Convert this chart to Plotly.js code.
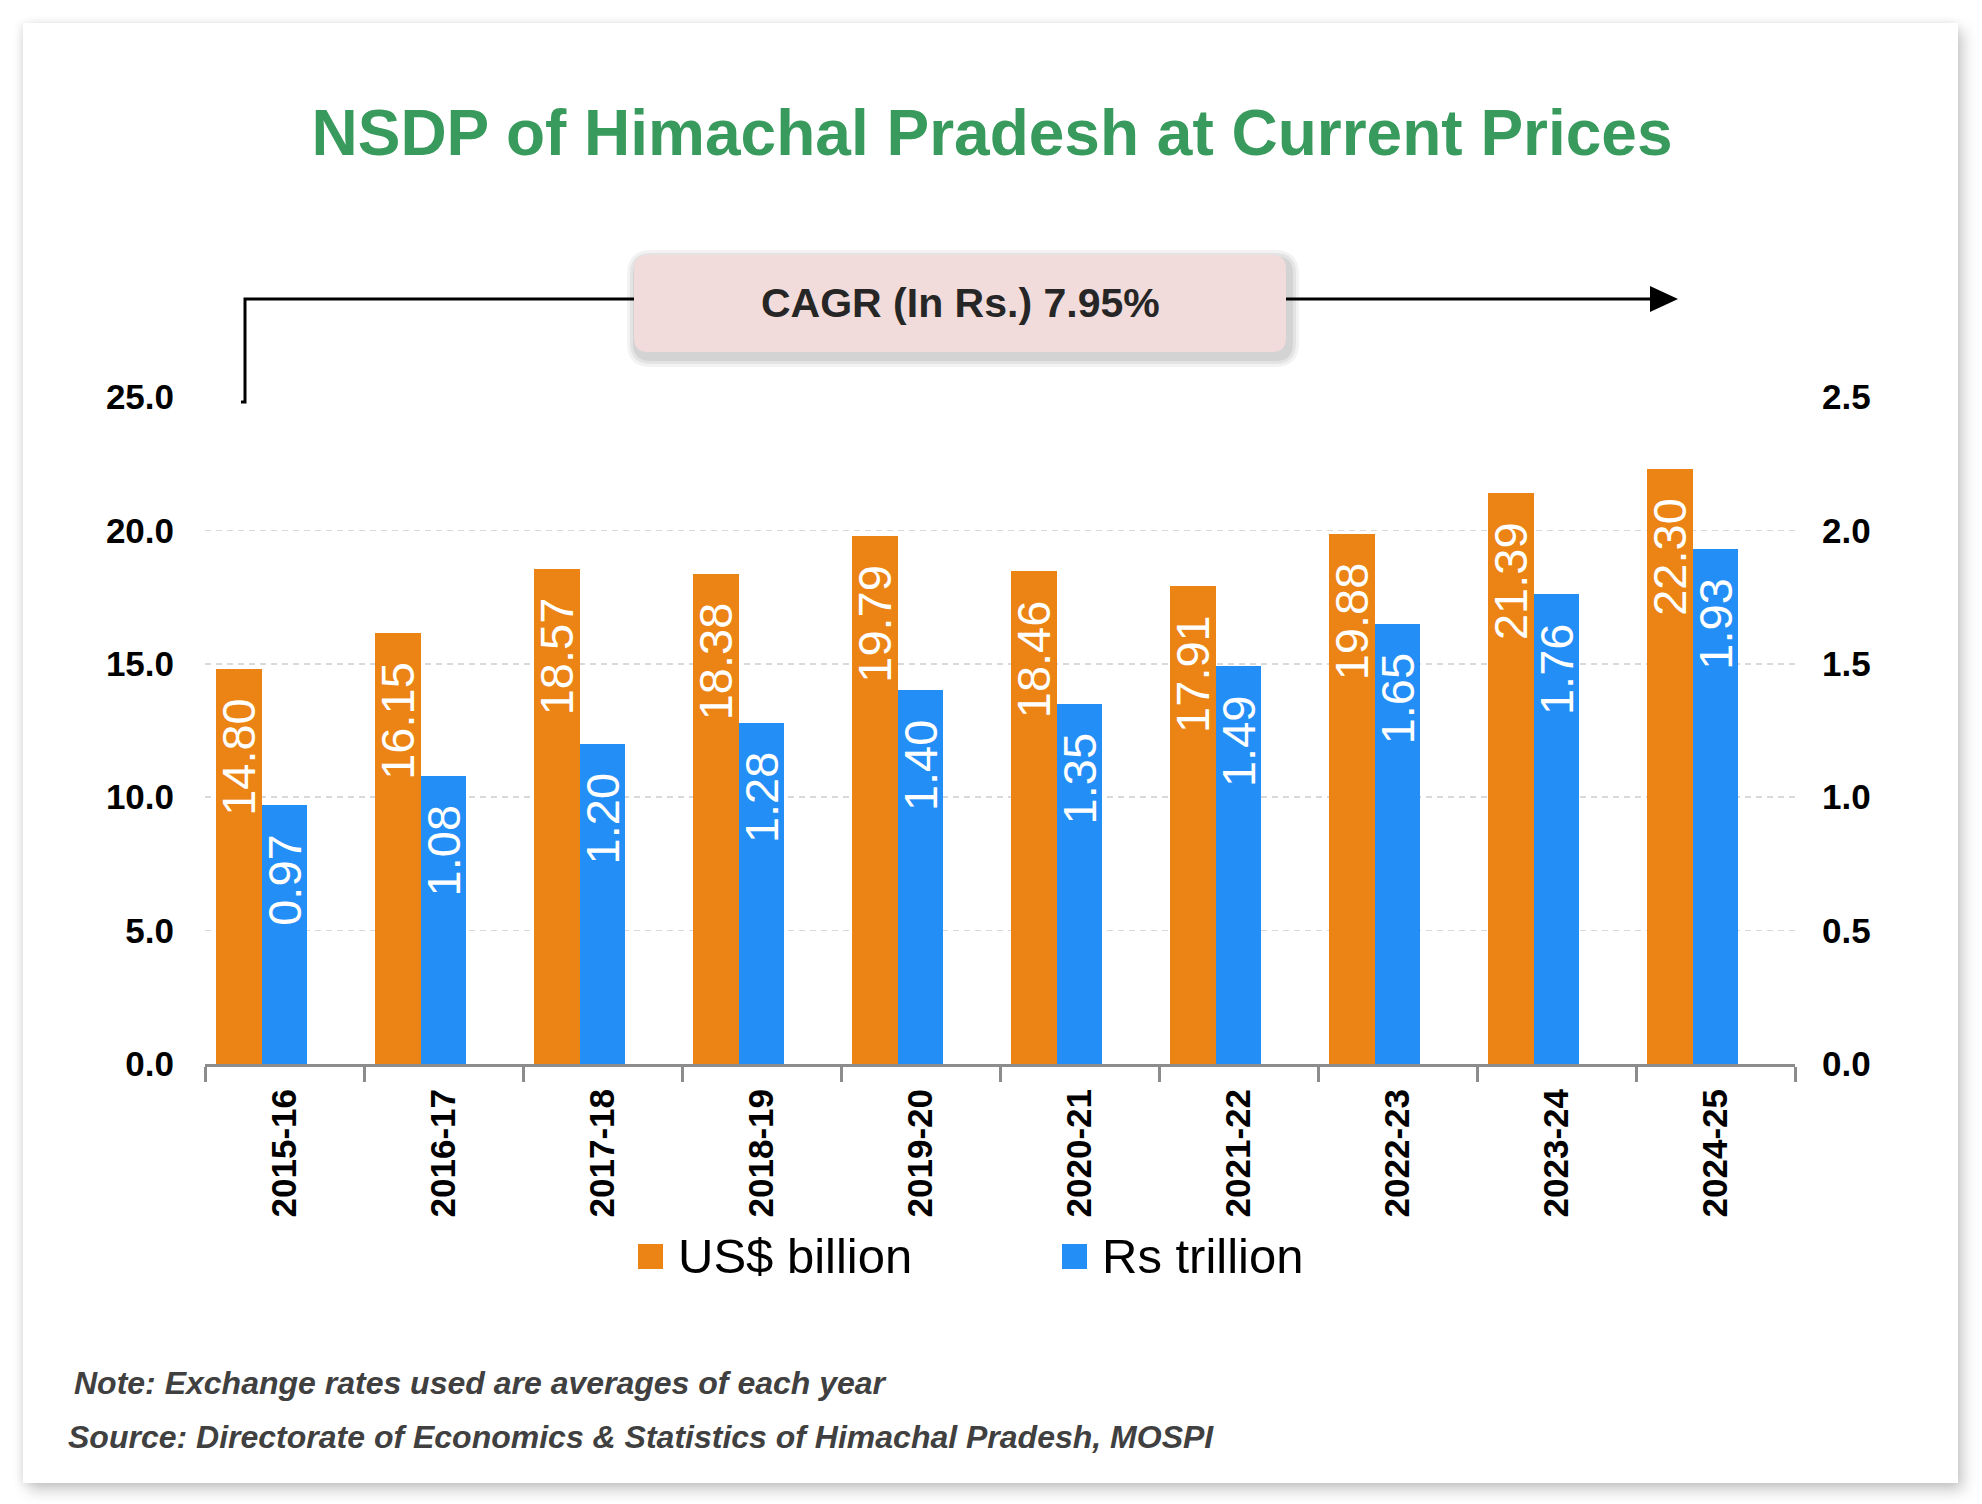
<!DOCTYPE html>
<html>
<head>
<meta charset="utf-8">
<script src="https://cdn.plot.ly/plotly-3.0.1.min.js"></script>
<style>
  html, body { margin: 0; padding: 0; background: #ffffff; }
  #card {
    position: absolute; left: 23px; top: 23px; width: 1935px; height: 1460px;
    background: #ffffff; box-shadow: 5px 7px 14px rgba(0, 0, 0, 0.22), -2px 0 8px rgba(0, 0, 0, 0.08);
  }
  #chart { position: absolute; left: 0; top: 0; width: 1982px; height: 1504px; }
</style>
</head>
<body>
<div id="card"></div>
<div id="chart"></div>
<script>
// values
const years = ["2015-16", "2016-17", "2017-18", "2018-19", "2019-20", "2020-21", "2021-22", "2022-23", "2023-24", "2024-25"];
const usdBillion = [14.80, 16.15, 18.57, 18.38, 19.79, 18.46, 17.91, 19.88, 21.39, 22.30];
const rsTrillion = [0.97, 1.08, 1.20, 1.28, 1.40, 1.35, 1.49, 1.65, 1.76, 1.93];
const seriesNames = ["US$ billion", "Rs trillion"];
const cagrText = "CAGR (In Rs.) 7.95%";
const titleText = "NSDP of Himachal Pradesh at Current Prices";
const noteText = "Note: Exchange rates used are averages of each year";
const sourceText = "Source: Directorate of Economics & Statistics of Himachal Pradesh, MOSPI";

const FONT = "Liberation Sans, Arial, Helvetica, sans-serif";
const ORANGE = "#eb8414";
const BLUE = "#238ef6";
const PAD = "\u00a0\u00a0";

// plot box in pixels, used to place the decorations
const L = 205, R = 1795, T = 397, B = 1064;
const px = (x) => (x - L) / (R - L);
const py = (y) => (B - y) / (B - T);

const barText = {
  textposition: "inside",
  insidetextanchor: "end",
  textangle: -90,
  constraintext: "none",
  textfont: { family: FONT, size: 47, color: "#ffffff" },
  hoverinfo: "skip",
  showlegend: false,
};

const traces = [
  {
    type: "bar", name: seriesNames[0], x: years, y: usdBillion,
    text: usdBillion.map((v) => v.toFixed(2) + PAD),
    width: 0.289, offset: -0.431,
    marker: { color: ORANGE },
    ...barText,
  },
  {
    type: "bar", name: seriesNames[1], x: years, y: rsTrillion, yaxis: "y2",
    text: rsTrillion.map((v) => v.toFixed(2) + PAD),
    width: 0.285, offset: -0.142,
    marker: { color: BLUE },
    ...barText,
  },
];

function roundRect(x0, y0, x1, y1, r) {
  const path = [
    `M${x0 + r},${y0}`, `L${x1 - r},${y0}`, `Q${x1},${y0} ${x1},${y0 + r}`,
    `L${x1},${y1 - r}`, `Q${x1},${y1} ${x1 - r},${y1}`, `L${x0 + r},${y1}`,
    `Q${x0},${y1} ${x0},${y1 - r}`, `L${x0},${y0 + r}`, `Q${x0},${y0} ${x0 + r},${y0}`, "Z",
  ].join(" ");
  // convert pixel path to paper coords
  return path.replace(/(-?\d+(\.\d+)?),(-?\d+(\.\d+)?)/g, (m, x, _a, y) => `${px(+x)},${py(+y)}`);
}

const shapes = [];
// soft shadow for the CAGR box
[[10, 0.05], [7, 0.06], [4, 0.07]].forEach(([s, o]) => {
  shapes.push({
    type: "path", xref: "paper", yref: "paper", layer: "above",
    path: roundRect(634 - s + 3, 255 - s + 5, 1286 + s + 3, 352 + s + 5, 14 + s),
    fillcolor: `rgba(0,0,0,${o})`, line: { width: 0 },
  });
});
// bracket line with arrow
shapes.push({
  type: "path", xref: "paper", yref: "paper", layer: "above",
  path: `M${px(241)},${py(402)} L${px(245)},${py(402)} L${px(245)},${py(299)} L${px(1652)},${py(299)}`,
  line: { color: "#000000", width: 3 },
});
shapes.push({
  type: "path", xref: "paper", yref: "paper", layer: "above",
  path: `M${px(1650)},${py(286)} L${px(1678)},${py(299)} L${px(1650)},${py(312)} Z`,
  fillcolor: "#000000", line: { width: 0 },
});
// CAGR box
shapes.push({
  type: "path", xref: "paper", yref: "paper", layer: "above",
  path: roundRect(634, 255, 1286, 352, 14),
  fillcolor: "#f1dcdb", line: { width: 0 },
});
// legend swatches
const swatchX = [638, 1062];
[ORANGE, BLUE].forEach((c, i) => {
  shapes.push({
    type: "rect", xref: "paper", yref: "paper",
    x0: px(swatchX[i]), x1: px(swatchX[i] + 25), y0: py(1244), y1: py(1269),
    fillcolor: c, line: { width: 0 },
  });
});

const annotations = [
  {
    xref: "paper", yref: "paper", x: px(960), y: py(303), showarrow: false,
    text: "<b>" + cagrText + "</b>", xanchor: "center", yanchor: "middle",
    font: { family: FONT, size: 41, color: "#262626" },
  },
  ...seriesNames.map((n, i) => ({
    xref: "paper", yref: "paper", x: px(swatchX[i] + 38), y: py(1256), showarrow: false,
    text: n, xanchor: "left", yanchor: "middle",
    font: { family: FONT, size: 49, color: "#000000" },
  })),
  {
    xref: "paper", yref: "paper", x: px(72), y: py(1383), showarrow: false,
    text: "<b><i>" + noteText + "</i></b>", xanchor: "left", yanchor: "middle",
    font: { family: FONT, size: 32, color: "#404040" },
  },
  {
    xref: "paper", yref: "paper", x: px(66), y: py(1437), showarrow: false,
    text: "<b><i>" + sourceText + "</i></b>", xanchor: "left", yanchor: "middle",
    font: { family: FONT, size: 32, color: "#404040" },
  },
];

const tickFont = { family: FONT, size: 35, color: "#000000", weight: "bold" };

const layout = {
  width: 1982,
  height: 1504,
  margin: { l: L, r: 1982 - R, t: T, b: 1504 - B, pad: 0 },
  paper_bgcolor: "rgba(0,0,0,0)",
  plot_bgcolor: "rgba(0,0,0,0)",
  font: { family: FONT },
  title: {
    text: "<b>" + titleText + "</b>",
    x: 992 / 1982, xanchor: "center",
    y: 1 - 133 / 1504, yanchor: "middle",
    font: { family: FONT, size: 64, color: "#389a5c" },
  },
  showlegend: false,
  bargap: 0,
  barmode: "overlay",
  xaxis: {
    type: "category",
    range: [-0.5, years.length - 0.5],
    tickson: "boundaries",
    ticks: "outside",
    ticklen: 15,
    tickwidth: 3,
    tickcolor: "#8c8c8c",
    showline: true,
    linecolor: "#8c8c8c",
    linewidth: 3,
    showgrid: false,
    tickangle: -90,
    tickfont: tickFont,
    ticklabelstandoff: 8,
  },
  yaxis: {
    range: [0, 25],
    dtick: 5,
    tickformat: ".1f",
    showline: false,
    zeroline: false,
    showgrid: true,
    gridcolor: "#d9d9d9",
    gridwidth: 1.5,
    griddash: "6px,5px",
    tickfont: tickFont,
    ticklabelstandoff: 30,
  },
  yaxis2: {
    range: [0, 2.5],
    dtick: 0.5,
    tickformat: ".1f",
    overlaying: "y",
    side: "right",
    showline: false,
    zeroline: false,
    showgrid: false,
    tickfont: tickFont,
    ticklabelstandoff: 26,
  },
  shapes,
  annotations,
};

Plotly.newPlot("chart", traces, layout, { displayModeBar: false, responsive: false, staticPlot: true });
</script>
</body>
</html>
